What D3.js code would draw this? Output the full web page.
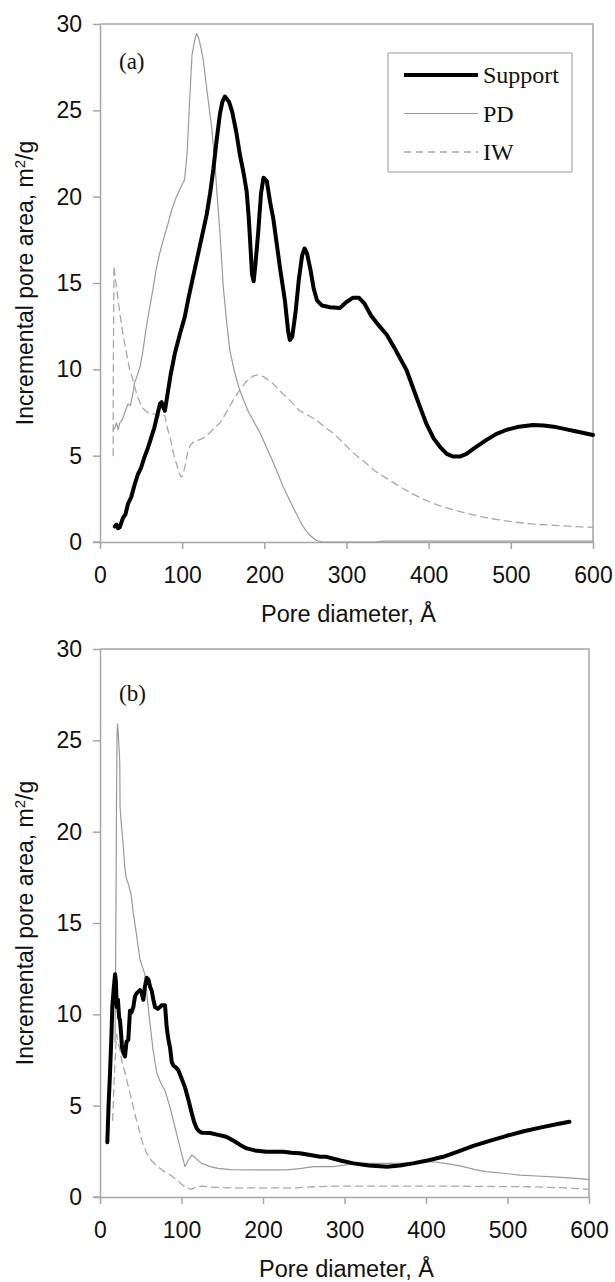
<!DOCTYPE html>
<html>
<head>
<meta charset="utf-8">
<script src="https://cdn.jsdelivr.net/npm/d3@7"></script>
<style>
  body { margin: 0; background: #fff; }
  svg { display: block; }
</style>
</head>
<body>
<svg id="chart"></svg>
<script>
// pore diameter (Å) / incremental pore area (m2/g)
const aSupport = [[18,0.9],[20,1.0],[22,0.8],[24,0.85],[28,1.4],[31,1.6],[34,2.2],[38,2.6],[42,3.3],[46,3.9],[50,4.3],[54,4.9],[58,5.4],[62,6.0],[66,6.6],[70,7.4],[73,8.0],[75,8.1],[77,7.8],[79,7.6],[82,8.5],[86,9.7],[91,10.9],[97,12.0],[103,13.0],[108,14.2],[113,15.3],[119,16.6],[125,17.9],[130,19.0],[134,20.2],[138,21.6],[142,23.3],[146,24.8],[149,25.5],[152,25.8],[157,25.5],[161,24.9],[166,23.7],[170,22.5],[175,21.3],[178.5,20.3],[181,18.8],[183,17.2],[185,15.5],[187,15.1],[189,16.0],[192.5,17.9],[196,20.2],[199,21.1],[203,20.9],[207,19.7],[211,18.7],[215,17.3],[219,15.9],[225,14.0],[229,12.2],[231,11.7],[234,11.9],[238,13.3],[242,15.2],[246,16.6],[249,17.0],[252,16.7],[256,15.8],[260,14.7],[264,14.0],[270,13.7],[280,13.6],[292,13.55],[300,13.9],[308,14.15],[315,14.15],[322,13.8],[330,13.1],[340,12.5],[349,12.0],[360,11.1],[373,9.96],[385,8.4],[397,6.87],[406,6.0],[414,5.5],[422,5.1],[430,4.95],[438,4.95],[446,5.1],[456,5.45],[470,5.9],[482,6.25],[495,6.5],[510,6.68],[527,6.77],[540,6.75],[552,6.68],[565,6.55],[580,6.4],[600,6.2]];

const aPD = [[16,6.5],[18,6.6],[20,6.9],[22,6.5],[24,6.9],[26,7.0],[28,7.2],[31,7.6],[34,8.0],[37,7.9],[40,8.6],[42,9.2],[45,9.6],[49,10.2],[52,11.0],[55,12.0],[58,12.9],[61,13.7],[65,14.8],[68,15.7],[72,16.6],[77,17.5],[82,18.3],[87,19.2],[93,20.0],[98,20.5],[103,21.0],[106,22.5],[109,25.5],[112,28.2],[115,29.0],[117.5,29.45],[120,29.2],[123,28.6],[126,27.8],[130,26.2],[136,24.0],[140,21.8],[143,19.8],[146,17.9],[150,14.8],[154,12.8],[158,11.1],[164,9.8],[170,8.8],[180,7.6],[195,6.3],[210,4.7],[223,3.2],[235,2.0],[247,0.9],[255,0.4],[263,0.1],[270,0],[335,0],[345,0.05],[600,0.05]];

const aIW = [[16,5.0],[16.2,10],[17,16.0],[18,15.5],[20,14.8],[24,13.3],[28,12.0],[32,11.0],[36,10.0],[40,9.4],[45,8.5],[50,7.9],[55,7.6],[60,7.45],[67,7.4],[72,7.3],[76,7.4],[79,7.3],[82,6.6],[86,5.9],[90,5.0],[94,4.4],[97,3.9],[99,3.75],[101,3.9],[104,4.5],[107,5.3],[110,5.6],[115,5.85],[120,5.9],[125,6.0],[130,6.15],[137,6.5],[146,6.9],[155,7.6],[163,8.3],[170,8.8],[178,9.3],[186,9.6],[193,9.7],[200,9.55],[210,9.2],[220,8.7],[231,8.2],[243,7.6],[255,7.3],[265,7.0],[275,6.6],[284,6.3],[295,5.8],[305,5.3],[315,4.9],[324,4.56],[335,4.1],[345,3.8],[355,3.5],[365,3.2],[380,2.8],[395,2.45],[405,2.24],[420,2.0],[435,1.8],[446,1.66],[465,1.45],[487,1.27],[505,1.15],[527,1.04],[550,0.97],[575,0.9],[600,0.85]];

const bSupport = [[9,3.0],[10.5,5.0],[12.3,6.8],[14,8.8],[15.1,10.4],[17,11.5],[18.5,12.2],[19.5,11.8],[20.5,10.4],[22,10.8],[23.5,9.8],[24.5,9.7],[25.8,9.0],[27,8.2],[28.6,7.9],[30.7,7.7],[32.5,8.5],[34.7,8.6],[36.8,10.2],[38.5,10.1],[40.9,10.4],[43,11.0],[45,11.15],[49,11.33],[51,11.2],[53.2,10.8],[55,11.5],[57.3,12.0],[59.5,11.9],[61.5,11.5],[63.4,11.3],[65.5,10.8],[67.5,10.4],[71,10.3],[73.6,10.4],[75.7,10.5],[79.8,10.5],[81.8,9.3],[84,8.6],[85.9,8.2],[88,7.4],[90,7.2],[93,7.1],[96,6.95],[100,6.5],[104.3,6.0],[108,5.4],[112.5,4.6],[115.5,4.1],[118.6,3.76],[121.5,3.6],[124.8,3.52],[135,3.5],[145,3.4],[155,3.3],[165,3.05],[172,2.85],[180,2.66],[190,2.55],[204,2.48],[225,2.48],[235,2.42],[245,2.39],[258,2.3],[270,2.2],[278,2.2],[295,2.0],[311,1.84],[330,1.72],[352,1.66],[368,1.72],[384,1.84],[400,1.98],[421,2.2],[440,2.5],[458,2.8],[480,3.1],[499,3.35],[520,3.6],[540,3.8],[560,3.98],[576,4.12]];

const bPD = [[18.5,8.5],[19.5,15],[20.3,22],[21,25.5],[21.6,25.9],[22.5,25.3],[23.5,24.5],[24.3,23.7],[24.6,21.4],[26,20.5],[28.6,19.2],[30.5,18.0],[32,17.5],[35,17.1],[38,16.6],[41,15.5],[45,14.3],[49,13.0],[55,12.2],[58,10.9],[61.3,9.5],[65,8.1],[69.6,6.8],[75,6.2],[80,5.8],[86,4.9],[91,4.0],[96,3.1],[100,2.4],[104.3,1.66],[108,2.0],[112.5,2.3],[118,2.1],[124.8,1.84],[135,1.66],[145,1.57],[160,1.5],[188,1.48],[229,1.48],[245,1.55],[262,1.66],[286,1.66],[300,1.75],[315,1.84],[368,1.84],[409,1.93],[430,1.8],[446,1.66],[460,1.5],[474,1.39],[495,1.3],[515,1.2],[536,1.15],[556,1.1],[580,1.03],[600,0.97]];

const bIW = [[15.5,4.2],[17,6.0],[19,8.0],[20.4,8.9],[22,8.5],[24.5,8.05],[27,7.4],[30.7,6.8],[35,6.0],[38.9,5.3],[43,4.5],[47,3.85],[52,3.0],[57.3,2.4],[63,2.0],[70,1.7],[75.7,1.5],[82,1.3],[88,1.15],[94,0.95],[100,0.7],[106,0.5],[112,0.42],[118,0.55],[125,0.6],[135,0.55],[160,0.5],[200,0.5],[240,0.5],[262,0.56],[290,0.6],[410,0.6],[530,0.56],[570,0.5],[600,0.42]];

const xTicks = [0, 100, 200, 300, 400, 500, 600];
const yTicks = [0, 5, 10, 15, 20, 25, 30];
const seriesNames = ['Support', 'PD', 'IW'];

const W = 615, H = 1282;
const sans = '"Liberation Sans", Arial, sans-serif';
const serif = '"Liberation Serif", "Times New Roman", serif';
const axisColor = '#a6a6a6';

const styles = {
  Support: { stroke: '#000', width: 4, dash: null },
  PD: { stroke: '#9a9a9a', width: 1.2, dash: null },
  IW: { stroke: '#a8a8a8', width: 1.3, dash: '7,5' }
};

const svg = d3.select('#chart').attr('width', W).attr('height', H);

function drawPanel(p) {
  const x = d3.scaleLinear().domain([0, 600]).range([p.left, p.right]);
  const y = d3.scaleLinear().domain([0, 30]).range([p.bottom, p.top]);
  const g = svg.append('g');

  // top and right frame
  g.append('path')
    .attr('d', `M${p.left},${p.top}H${p.right}V${p.bottom}`)
    .attr('fill', 'none').attr('stroke', axisColor).attr('stroke-width', 1.5);

  const yAxis = g.append('g')
    .attr('transform', `translate(${p.left},0)`)
    .call(d3.axisLeft(y).tickValues(yTicks).tickSize(7).tickSizeOuter(0).tickPadding(11));
  const xAxis = g.append('g')
    .attr('transform', `translate(0,${p.bottom})`)
    .call(d3.axisBottom(x).tickValues(xTicks).tickSize(7).tickSizeOuter(0).tickPadding(18));

  [yAxis, xAxis].forEach(a => {
    a.select('.domain').attr('stroke', axisColor).attr('stroke-width', 1.5);
    a.selectAll('.tick line').attr('stroke', axisColor).attr('stroke-width', 1.5);
    a.selectAll('.tick text')
      .attr('fill', '#111')
      .style('font-family', sans)
      .style('font-size', '23px');
  });
  // extend x axis left to y tick
  g.append('line')
    .attr('x1', p.left - 7).attr('x2', p.left)
    .attr('y1', p.bottom).attr('y2', p.bottom)
    .attr('stroke', axisColor).attr('stroke-width', 1.5);

  const line = d3.line().x(d => x(d[0])).y(d => y(d[1]));

  p.series.forEach(s => {
    const st = styles[s.name];
    g.append('path')
      .datum(s.data)
      .attr('d', line)
      .attr('fill', 'none')
      .attr('stroke', st.stroke)
      .attr('stroke-width', st.width)
      .attr('stroke-dasharray', st.dash)
      .attr('stroke-linejoin', 'round')
      .attr('stroke-linecap', 'round');
  });

  g.append('text')
    .attr('x', p.left + 19).attr('y', p.top + p.labelDy)
    .style('font-family', serif).style('font-size', '23px')
    .attr('fill', '#111')
    .text(p.label);

  g.append('text')
    .attr('x', (p.left + p.right) / 2 + 2).attr('y', p.bottom + 80)
    .attr('text-anchor', 'middle')
    .style('font-family', sans).style('font-size', '23.5px')
    .attr('fill', '#111')
    .text('Pore diameter, Å');

  const yt = g.append('text')
    .attr('transform', `translate(33,${(p.top + p.bottom) / 2}) rotate(-90)`)
    .attr('text-anchor', 'middle')
    .style('font-family', sans).style('font-size', '23px')
    .attr('fill', '#111');
  yt.append('tspan').text('Incremental pore area, m');
  yt.append('tspan').attr('dy', -8).style('font-size', '15px').text('2');
  yt.append('tspan').attr('dy', 8).text('/g');

  if (p.legend) {
    const lg = g.append('g');
    lg.append('rect')
      .attr('x', 388).attr('y', 53).attr('width', 184).attr('height', 119)
      .attr('fill', '#fff').attr('stroke', '#999').attr('stroke-width', 1);
    seriesNames.forEach((name, i) => {
      const st = styles[name];
      const ly = 75 + i * 38.5;
      lg.append('line')
        .attr('x1', 404).attr('x2', 478).attr('y1', ly).attr('y2', ly)
        .attr('stroke', st.stroke).attr('stroke-width', st.width)
        .attr('stroke-dasharray', st.dash);
      lg.append('text')
        .attr('x', 483).attr('y', ly + 8)
        .style('font-family', serif).style('font-size', '24px')
        .attr('fill', '#111')
        .text(name);
    });
  }
}

drawPanel({
  left: 100, right: 593, top: 24, bottom: 542, label: '(a)', labelDy: 45, legend: true,
  series: [{ name: 'IW', data: aIW }, { name: 'PD', data: aPD }, { name: 'Support', data: aSupport }]
});

drawPanel({
  left: 100, right: 589, top: 649, bottom: 1197, label: '(b)', labelDy: 52, legend: false,
  series: [{ name: 'IW', data: bIW }, { name: 'PD', data: bPD }, { name: 'Support', data: bSupport }]
});
</script>
</body>
</html>
